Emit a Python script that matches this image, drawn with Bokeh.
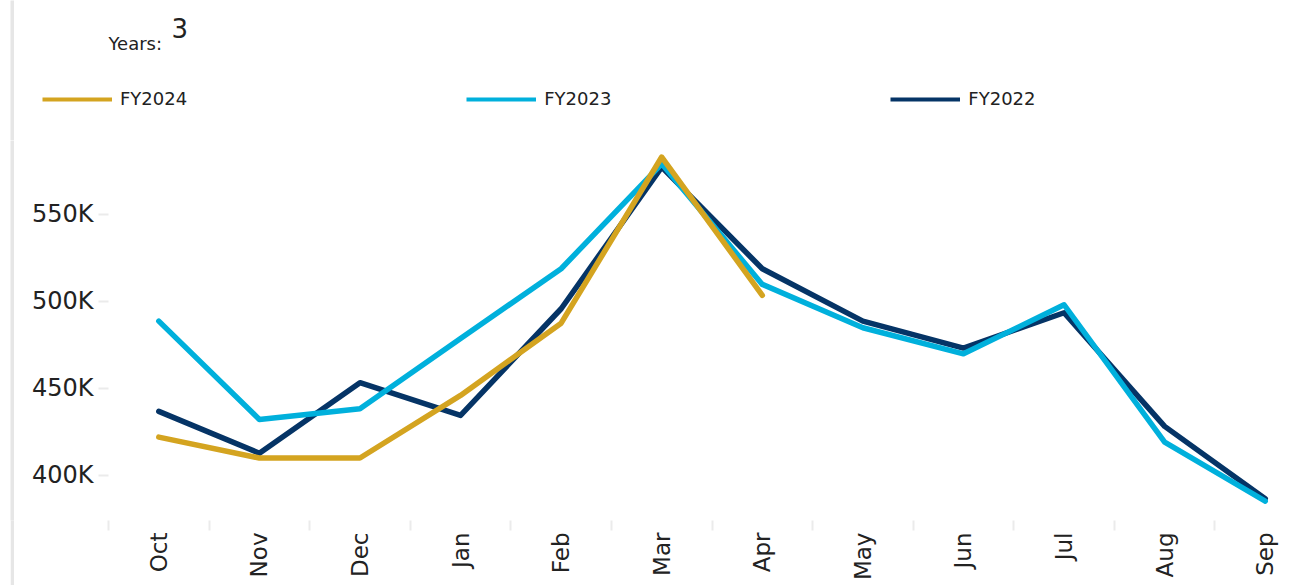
import math
from bokeh.plotting import figure
from bokeh.models import (FixedTicker, Legend, LegendItem, Range1d, ColumnDataSource, Label, Spacer)
from bokeh.layouts import row
from bokeh.embed import file_html
from bokeh.resources import INLINE

# ---- data ----
months = ["Oct", "Nov", "Dec", "Jan", "Feb", "Mar", "Apr", "May", "Jun", "Jul", "Aug", "Sep"]
fy2024 = [422000, 410000, 410000, 446000, 487500, 583000, 503500]
fy2023 = [488700, 432200, 438300, 478700, 518800, 579100, 509800, 484900, 469900, 498100, 419100, 385200]
fy2022 = [436800, 412800, 453300, 434500, 495800, 577200, 518800, 488700, 473200, 493500, 428200, 386600]
y_ticks = [400000, 450000, 500000, 550000]
y_tick_labels = ["400K", "450K", "500K", "550K"]
series_names = ["FY2024", "FY2023", "FY2022"]
years_label = "Years:"
years_count = "3"

FONT = "DejaVu Sans"
COLORS = {"FY2024": "#D4A420", "FY2023": "#00B0DC", "FY2022": "#053466"}
TICK_C = "#ebebeb"
TXT = "#222222"
STRIP_C = "#e6e6e6"

HEAD_H = 140
MAIN_H = 585 - HEAD_H

xs = list(range(len(months)))
series = {"FY2024": fy2024, "FY2023": fy2023, "FY2022": fy2022}


def gray_strip(h):
    s = figure(width=4, height=h, toolbar_location=None, output_backend="svg",
               x_axis_type=None, y_axis_type=None, min_border=0, outline_line_color=None,
               background_fill_color=STRIP_C, border_fill_color=STRIP_C)
    s.xgrid.visible = False
    s.ygrid.visible = False
    return s


# ---------------- header: "Years: 3" and legend ----------------
head = figure(width=1296, height=HEAD_H, toolbar_location=None, output_backend="svg", title=None,
              x_axis_type=None, y_axis_type=None, min_border=0, outline_line_color=None,
              x_range=Range1d(0, 1), y_range=Range1d(0, 1),
              background_fill_color="white", border_fill_color="white")
head.xgrid.visible = False
head.ygrid.visible = False

# legend keys: same series, drawn outside this header's visible range (only the key shows)
proxies = []
for n in series_names:
    vals = series[n]
    proxies.append(head.line(x=xs[:len(vals)], y=vals, line_color=COLORS[n], line_width=4))
legend = Legend(items=[LegendItem(label=n, renderers=[r]) for n, r in zip(series_names, proxies)],
                orientation="horizontal", location=(28, 31),
                glyph_width=70, glyph_height=20, label_standoff=8, spacing=279,
                padding=0, margin=0, border_line_color=None, background_fill_alpha=0,
                label_text_font=FONT, label_text_font_size="18px", label_text_color=TXT)
head.add_layout(legend, "center")
head.add_layout(Label(x=94, y=97, x_units="screen", y_units="screen", text=years_label,
                      text_font=FONT, text_font_size="18px", text_color=TXT,
                      text_baseline="alphabetic"))
head.add_layout(Label(x=157, y=113, x_units="screen", y_units="screen", text=years_count,
                      text_font=FONT, text_font_size="26px", text_color=TXT,
                      text_baseline="alphabetic"))

# ---------------- main chart ----------------
p = figure(width=1296, height=MAIN_H, toolbar_location=None, output_backend="svg", title=None,
           min_border_left=94, min_border_right=0, min_border_top=0, min_border_bottom=65,
           x_range=Range1d(-0.5, 11.45), y_range=Range1d(374100, 592500),
           outline_line_color=None, background_fill_color="white", border_fill_color="white")
p.xgrid.visible = False
p.ygrid.visible = False

for name in ["FY2022", "FY2023", "FY2024"]:
    vals = series[name]
    src = ColumnDataSource(dict(x=xs[:len(vals)], y=vals))
    p.line("x", "y", source=src, line_color=COLORS[name], line_width=5.5,
           line_cap="round", line_join="round")

# x axis
xa = p.xaxis[0]
xa.ticker = FixedTicker(ticks=xs, minor_ticks=[i - 0.5 for i in xs])
xa.major_label_overrides = {i: m for i, m in zip(xs, months)}
xa.major_label_orientation = math.pi / 2
xa.axis_line_color = None
xa.major_tick_line_color = None
xa.major_tick_out = 0
xa.major_tick_in = 0
xa.minor_tick_line_color = TICK_C
xa.minor_tick_out = 10
xa.minor_tick_in = 0
xa.minor_tick_line_width = 2
xa.major_label_standoff = 2
xa.major_label_text_font = FONT
xa.major_label_text_font_size = "23px"
xa.major_label_text_color = TXT

# y axis
ya = p.yaxis[0]
ya.ticker = FixedTicker(ticks=y_ticks, minor_ticks=[])
ya.major_label_overrides = {v: t for v, t in zip(y_ticks, y_tick_labels)}
ya.axis_line_color = None
ya.major_tick_line_color = TICK_C
ya.major_tick_out = 10
ya.major_tick_in = 0
ya.major_tick_line_width = 2
ya.minor_tick_line_color = None
ya.major_label_standoff = 5
ya.major_label_text_font = FONT
ya.major_label_text_font_size = "24px"
ya.major_label_text_color = TXT

top_row = row(Spacer(width=10, height=HEAD_H), gray_strip(HEAD_H), head)
main_row = row(Spacer(width=10, height=MAIN_H), gray_strip(MAIN_H), p)
open("out.html", "w").write(file_html([top_row, main_row], INLINE))
